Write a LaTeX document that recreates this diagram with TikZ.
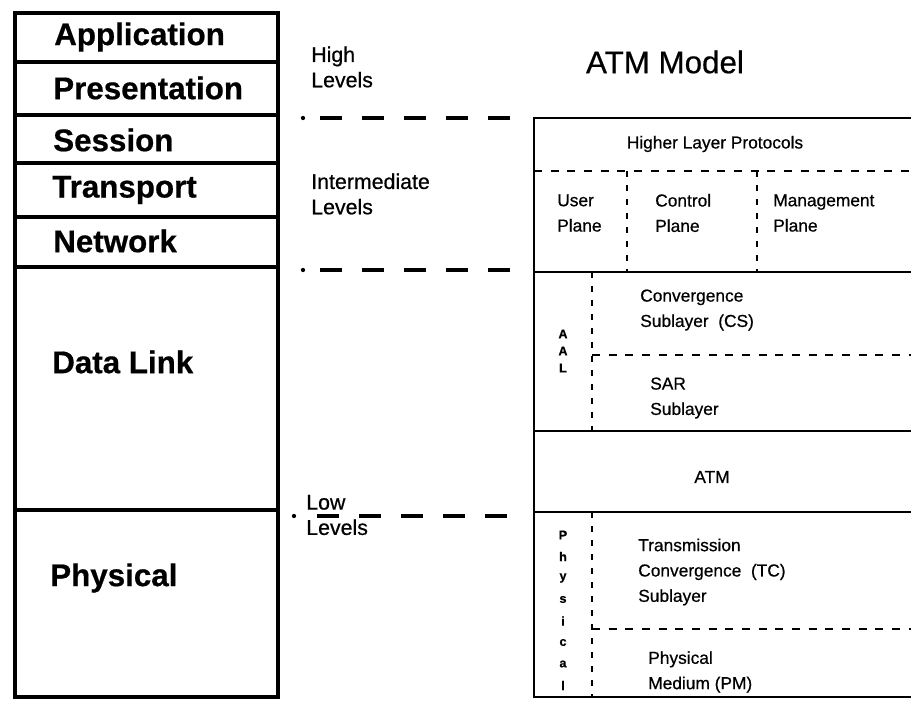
\documentclass[tikz,border=0pt]{standalone}
\usepackage{fontspec}
\setmainfont{Liberation Sans}
\newfontfamily\inkfont[FakeBold=0.6]{Liberation Sans}
\newfontfamily\inkbold[FakeBold=0.6]{Liberation Sans Bold}
\begin{document}
\begin{tikzpicture}[x=0.75pt,y=-0.75pt,
  osi/.style={font=\inkbold\fontsize{23.5}{26}\selectfont, anchor=west, inner sep=0},
  lvl/.style={font=\inkfont\fontsize{16}{19}\selectfont, anchor=west, align=left, inner sep=0},
  sub/.style={font=\inkfont\fontsize{13}{19}\selectfont, anchor=west, align=left, inner sep=0},
  vletter/.style={font=\inkbold\fontsize{9.5}{10}\selectfont, inner sep=0},
  box/.style={line width=2.6pt},
  solidrule/.style={line width=2.2pt},
  finedash/.style={line width=1.6pt, dash pattern=on 6pt off 6.5pt},
  vdash/.style={line width=1.6pt, dash pattern=on 4.5pt off 6pt},
  leveldash/.style={line width=3pt, dash pattern=on 16.5pt off 15pt},
  leveldot/.style={fill=black, circle, inner sep=0, minimum size=3.2pt}
]
\useasboundingbox (0,0) rectangle (911,702);

% OSI reference stack
\draw[box] (15,13) rectangle (278,62);
\draw[box] (15,62) rectangle (278,115);
\draw[box] (15,115) rectangle (278,163);
\draw[box] (15,163) rectangle (278,217);
\draw[box] (15,217) rectangle (278,267);
\draw[box] (15,267) rectangle (278,510);
\draw[box] (15,510) rectangle (278,697);
\node[osi] (app)  at (54,37)  {Application};
\node[osi] (pres) at (53,88)  {Presentation};
\node[osi] (sess) at (53,140) {Session};
\node[osi] (trans) at (52,190) {Transport};
\node[osi] (net)  at (53,241) {Network};
\node[osi] (dl)   at (52,362) {Data Link};
\node[osi] (phy)  at (50,578) {Physical};

% level labels and separators
\node[lvl] (high)  at (311,67)  {High\\Levels};
\node[lvl] (inter) at (311,194) {Intermediate\\Levels};
\node[lvl] (low)   at (306,515) {Low\\Levels};

\node[leveldot] (d1) at (303,118) {};
\node[leveldot] (d2) at (303,270) {};
\node[leveldot] (d3) at (294,516) {};
\coordinate (e1a) at (320,118); \coordinate (e1b) at (515,118);
\coordinate (e2a) at (320,270); \coordinate (e2b) at (512,270);
\coordinate (e3a) at (317,516); \coordinate (e3b) at (508,516);
\draw[leveldash] (e1a) -- (e1b);
\draw[leveldash] (e2a) -- (e2b);
\draw[leveldash] (e3a) -- (e3b);

% ATM model
\node[font=\inkfont\fontsize{23.5}{26}\selectfont] (title) at (665,62) {ATM Model};

\draw[solidrule] (911,118) -- (534,118) -- (534,697) -- (911,697);
\draw[solidrule] (534,272) -- (911,272);
\draw[solidrule] (534,431) -- (911,431);
\draw[solidrule] (534,512) -- (911,512);

% planes
\draw[finedash] (534,171) -- (911,171);
\draw[vdash] (627,171) -- (627,272);
\draw[vdash] (757,171) -- (757,272);
\node[sub, anchor=center] (hlp) at (715,144) {Higher Layer Protocols};
\node[sub] (user) at (557,213) {User\\Plane};
\node[sub] (ctrl) at (655,213) {Control\\Plane};
\node[sub] (mgmt) at (773,213) {Management\\Plane};

% AAL
\draw[vdash] (592,272) -- (592,431);
\draw[finedash] (592,355) -- (911,355);
\node[vletter] (aal1) at (563,334) {A};
\node[vletter] (aal2) at (563,351) {A};
\node[vletter] (aal3) at (563,368) {L};
\node[sub] (cs)  at (640,310) {Convergence\\Sublayer\ \ (CS)};
\node[sub] (sar) at (650,398) {SAR\\Sublayer};

% ATM layer
\node[sub, anchor=center] (atm) at (712,477) {ATM};

% physical layer
\draw[vdash] (592,512) -- (592,697);
\draw[finedash] (592,629) -- (911,629);
\foreach \ch [count=\i from 0] in {P,h,y,s,i,c,a,l}
  \node[vletter] (ph\i) at (563,535+\i*21.5) {\ch};
\node[sub] (tc) at (638,572) {Transmission\\Convergence\ \ (TC)\\Sublayer};
\node[sub] (pm) at (648,672) {Physical\\Medium (PM)};
\end{tikzpicture}
\end{document}
